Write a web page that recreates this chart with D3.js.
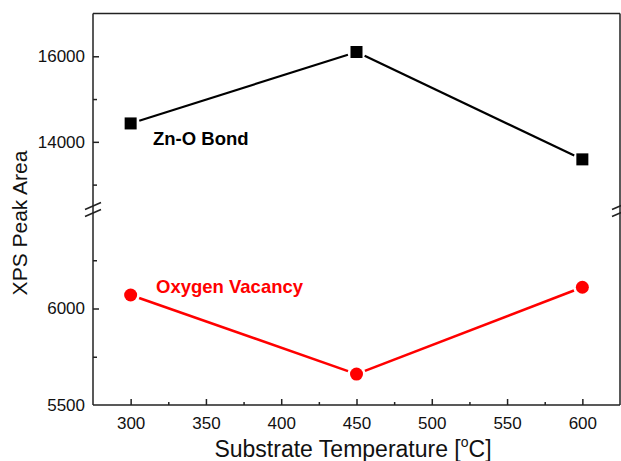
<!DOCTYPE html>
<html>
<head>
<meta charset="utf-8">
<script src="https://cdn.jsdelivr.net/npm/d3@7"></script>
<style>
  html, body { margin: 0; padding: 0; background: #fff; }
  svg { display: block; font-family: "Liberation Sans", Arial, sans-serif; }
</style>
</head>
<body>
<svg id="chart" width="621" height="461"></svg>
<script>
// Substrate temperatures (°C)
const temperatures = [300, 450, 600];
// XPS peak areas
const znoBond = [14430, 16100, 13590];
const oxygenVacancy = [6070, 5660, 6110];

// Axis ticks
const xMajorTicks = [300, 350, 400, 450, 500, 550, 600];
const xMinorTicks = [325, 375, 425, 475, 525, 575];
const yTopMajor = [14000, 16000];
const yTopMinor = [13000, 15000];
const yBotMajor = [5500, 6000];
const yBotMinor = [5750, 6250];

const svg = d3.select("#chart");
const plotLeft = 93, plotRight = 620, plotTop = 13.5, plotBottom = 405;
const breakTop = 206, breakBot = 212;

const x = d3.scaleLinear().domain([275, 625]).range([plotLeft, plotRight]);
const yTop = d3.scaleLinear().domain([12500, 17000]).range([breakTop, plotTop]);
const yBot = d3.scaleLinear().domain([5500, 6500]).range([plotBottom, breakBot]);

const axisColor = "#222";
const g = svg.append("g");

// Frame
g.append("line").attr("x1", plotLeft).attr("x2", plotRight).attr("y1", plotTop).attr("y2", plotTop)
  .attr("stroke", axisColor).attr("stroke-width", 1.5);
g.append("line").attr("x1", plotLeft).attr("x2", plotRight).attr("y1", plotBottom).attr("y2", plotBottom)
  .attr("stroke", axisColor).attr("stroke-width", 1.5);
g.append("line").attr("x1", plotLeft).attr("x2", plotLeft).attr("y1", plotTop).attr("y2", plotBottom)
  .attr("stroke", axisColor).attr("stroke-width", 1.5);
g.append("line").attr("x1", plotRight).attr("x2", plotRight).attr("y1", plotTop).attr("y2", plotBottom)
  .attr("stroke", axisColor).attr("stroke-width", 1.5);

// X axis ticks (inward) and labels
const xAxis = d3.axisBottom(x).tickValues(xMajorTicks).tickSizeInner(-6).tickSizeOuter(0).tickPadding(12);
const xg = g.append("g").attr("transform", `translate(0,${plotBottom})`).call(xAxis);
xg.select(".domain").remove();
xg.selectAll(".tick line").attr("stroke", axisColor).attr("stroke-width", 1.5);
xg.selectAll(".tick text").attr("font-size", 17).attr("fill", "#111")
  .attr("font-family", "Liberation Sans, Arial, sans-serif");
const xm = d3.axisBottom(x).tickValues(xMinorTicks).tickSizeInner(-3).tickSizeOuter(0).tickFormat("");
const xmg = g.append("g").attr("transform", `translate(0,${plotBottom})`).call(xm);
xmg.select(".domain").remove();
xmg.selectAll(".tick line").attr("stroke", axisColor).attr("stroke-width", 1.5);

// Y axes (two segments split by a break)
function yAxisPart(scale, major, minor) {
  const a = d3.axisLeft(scale).tickValues(major).tickSizeInner(-6).tickSizeOuter(0).tickPadding(8)
    .tickFormat(d3.format("d"));
  const ag = g.append("g").attr("transform", `translate(${plotLeft},0)`).call(a);
  ag.select(".domain").remove();
  ag.selectAll(".tick line").attr("stroke", axisColor).attr("stroke-width", 1.5);
  ag.selectAll(".tick text").attr("font-size", 17).attr("fill", "#111")
    .attr("font-family", "Liberation Sans, Arial, sans-serif");
  const m = d3.axisLeft(scale).tickValues(minor).tickSizeInner(-4).tickSizeOuter(0).tickFormat("");
  const mg = g.append("g").attr("transform", `translate(${plotLeft},0)`).call(m);
  mg.select(".domain").remove();
  mg.selectAll(".tick line").attr("stroke", axisColor).attr("stroke-width", 1.5);
}
yAxisPart(yTop, yTopMajor, yTopMinor);
yAxisPart(yBot, yBotMajor, yBotMinor);
// the 5500 label sits at the corner; drop its tick mark lying on the x axis
g.selectAll(".tick").filter(d => d === 5500).select("line").remove();

// Break marks on both vertical axes
[plotLeft, plotRight].forEach(xp => {
  [breakTop, breakBot + 1].forEach(yp => {
    g.append("line")
      .attr("x1", xp - 8).attr("y1", yp + 3.5)
      .attr("x2", xp + 8).attr("y2", yp - 3.5)
      .attr("stroke", axisColor).attr("stroke-width", 1.6);
  });
});

// Series lines, stopped short of the markers
function seriesLines(vals, scale, color, width, gap) {
  for (let i = 0; i < vals.length - 1; i++) {
    const x1 = x(temperatures[i]), y1 = scale(vals[i]);
    const x2 = x(temperatures[i + 1]), y2 = scale(vals[i + 1]);
    const len = Math.hypot(x2 - x1, y2 - y1);
    const ux = (x2 - x1) / len, uy = (y2 - y1) / len;
    g.append("line")
      .attr("x1", x1 + ux * gap).attr("y1", y1 + uy * gap)
      .attr("x2", x2 - ux * gap).attr("y2", y2 - uy * gap)
      .attr("stroke", color).attr("stroke-width", width);
  }
}
seriesLines(znoBond, yTop, "#000", 2.2, 9);
seriesLines(oxygenVacancy, yBot, "#ff0000", 2.6, 9);

// Markers
g.selectAll(".sq").data(znoBond).enter().append("rect")
  .attr("x", (d, i) => x(temperatures[i]) - 6)
  .attr("y", d => yTop(d) - 6)
  .attr("width", 12).attr("height", 12).attr("fill", "#000");
g.selectAll(".dot").data(oxygenVacancy).enter().append("circle")
  .attr("cx", (d, i) => x(temperatures[i]))
  .attr("cy", d => yBot(d))
  .attr("r", 6.5).attr("fill", "#ff0000");

// Series labels
g.append("text").attr("x", 153).attr("y", 145)
  .attr("font-size", 18.5).attr("font-weight", "bold").attr("fill", "#000")
  .text("Zn-O Bond");
g.append("text").attr("x", 156).attr("y", 292.5)
  .attr("font-size", 18.5).attr("font-weight", "bold").attr("fill", "#ff0000")
  .text("Oxygen Vacancy");

// Axis titles
const xt = g.append("text").attr("x", 353).attr("y", 457)
  .attr("text-anchor", "middle").attr("font-size", 23).attr("fill", "#111");
xt.append("tspan").text("Substrate Temperature [");
xt.append("tspan").attr("font-size", 14).attr("dy", -10).text("o");
xt.append("tspan").attr("dy", 10).text("C]");

g.append("text")
  .attr("transform", "translate(27,223) rotate(-90)")
  .attr("text-anchor", "middle").attr("font-size", 21).attr("fill", "#111")
  .text("XPS Peak Area");
</script>
</body>
</html>
